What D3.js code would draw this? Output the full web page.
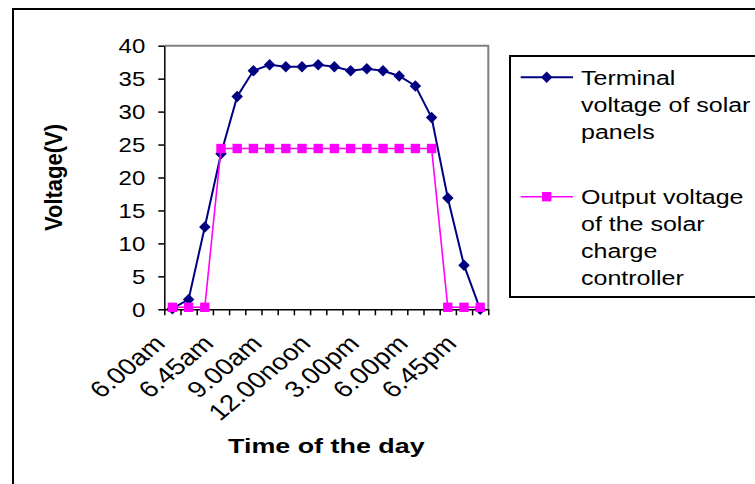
<!DOCTYPE html>
<html>
<head>
<meta charset="utf-8">
<script src="https://cdn.jsdelivr.net/npm/d3@7"></script>
<style>
  body { margin: 0; background: #fff; }
  svg { display: block; font-family: 'Liberation Sans', Arial, sans-serif; }
</style>
</head>
<body>
<div id="chart"></div>
<script>
// readings through the day (20 samples)
const terminal = [0.1, 1.5, 12.5, 23.6, 32.3, 36.2, 37.1, 36.8, 36.8, 37.1, 36.8, 36.2, 36.5, 36.2, 35.4, 33.9, 29.1, 16.9, 6.7, 0]
const output = [0.3, 0.3, 0.3, 24.4, 24.4, 24.4, 24.4, 24.4, 24.4, 24.4, 24.4, 24.4, 24.4, 24.4, 24.4, 24.4, 24.4, 0.3, 0.3, 0.3]
const tickLabels = ['6.00am', '6.45am', '9.00am', '12.00noon', '3.00pm', '6.00pm', '6.45pm']
const labelEvery = 3
const yTicks = [0, 5, 10, 15, 20, 25, 30, 35, 40]
const legendLines = [
  ['Terminal', 'voltage of solar', 'panels'],
  ['Output voltage', 'of the solar', 'charge', 'controller']
]

const width = 755
const height = 484
const plot = { left: 164.3, right: 488.3, top: 45.7, bottom: 309.3 }
const sx = 1.2 // text in the picture is wider than tall

const svg = d3.select('#chart')
  .append('svg')
  .attr('width', width)
  .attr('height', height)

// outer frame
svg.append('rect')
  .attr('x', 13).attr('y', 9)
  .attr('width', 800).attr('height', 600)
  .attr('fill', 'none')
  .attr('stroke', '#000')
  .attr('stroke-width', 2)

const n = terminal.length
const x = d3.scaleBand().domain(d3.range(n)).range([plot.left, plot.right])
const xEdge = d3.scaleLinear().domain([0, n]).range([plot.left, plot.right])
const y = d3.scaleLinear().domain([0, 40]).range([plot.bottom, plot.top])
const cx = i => x(i) + x.bandwidth() / 2

// grey top / right border of the plot area
svg.append('path')
  .attr('d', `M${plot.left},${plot.top}H${plot.right}V${plot.bottom}`)
  .attr('fill', 'none')
  .attr('stroke', '#808080')
  .attr('stroke-width', 2)

// y axis
const yAxis = svg.append('g')
  .attr('transform', `translate(${plot.left},0)`)
  .call(d3.axisLeft(y).tickValues(yTicks).tickSize(6).tickSizeOuter(0).tickPadding(0))
yAxis.select('.domain').attr('stroke', '#000').attr('stroke-width', 1.5)
yAxis.selectAll('.tick line').attr('stroke', '#000').attr('stroke-width', 1.5)
yAxis.selectAll('.tick text')
  .attr('x', 0)
  .attr('transform', `translate(-19,0) scale(1.2,1)`)
  .attr('dy', '0.36em')
  .style('font-size', '20px')
  .attr('fill', '#000')

// x axis, ticks between categories
const xAxis = svg.append('g')
  .attr('transform', `translate(0,${plot.bottom})`)
  .call(d3.axisBottom(xEdge).tickValues(d3.range(n + 1)).tickFormat('').tickSize(6).tickSizeOuter(0))
xAxis.select('.domain').attr('stroke', '#000').attr('stroke-width', 1.5)
xAxis.selectAll('.tick line').attr('stroke', '#000').attr('stroke-width', 1.5)

svg.append('g')
  .selectAll('text')
  .data(tickLabels)
  .enter()
  .append('text')
  .attr('transform', (d, i) => `translate(${cx(i * labelEvery) - 6},345) scale(${sx},1) rotate(-45)`)
  .attr('text-anchor', 'end')
  .style('font-size', '23px')
  .text(d => d)

// axis titles
svg.append('text')
  .attr('transform', `translate(62,${(plot.top + plot.bottom) / 2}) scale(1.05,1) rotate(-90)`)
  .attr('text-anchor', 'middle')
  .style('font-size', '22px')
  .style('font-weight', 'bold')
  .text('Voltage(V)')

svg.append('text')
  .attr('transform', `translate(${(plot.left + plot.right) / 2},453) scale(1.28,1)`)
  .attr('text-anchor', 'middle')
  .style('font-size', '21px')
  .style('font-weight', 'bold')
  .text('Time of the day')

// series
const line = d3.line().x((d, i) => cx(i)).y(d => y(d))
const diamond = d3.symbol().type(d3.symbolSquare).size(66)
const square = d3.symbol().type(d3.symbolSquare).size(88)

svg.append('path')
  .datum(terminal)
  .attr('d', line)
  .attr('fill', 'none')
  .attr('stroke', '#000080')
  .attr('stroke-width', 2)
svg.append('g')
  .selectAll('path')
  .data(terminal)
  .enter()
  .append('path')
  .attr('d', diamond)
  .attr('transform', (d, i) => `translate(${cx(i)},${y(d)}) rotate(45)`)
  .attr('fill', '#000080')

svg.append('path')
  .datum(output)
  .attr('d', line)
  .attr('fill', 'none')
  .attr('stroke', '#FF00FF')
  .attr('stroke-width', 1.6)
svg.append('g')
  .selectAll('path')
  .data(output)
  .enter()
  .append('path')
  .attr('d', square)
  .attr('transform', (d, i) => `translate(${cx(i)},${y(d)})`)
  .attr('fill', '#FF00FF')

// legend
svg.append('rect')
  .attr('x', 510).attr('y', 56)
  .attr('width', 300).attr('height', 241)
  .attr('fill', 'none')
  .attr('stroke', '#000')
  .attr('stroke-width', 2)

const legendRows = [
  { y: 77.3, color: '#000080', symbol: diamond, rot: 45, width: 2 },
  { y: 196.7, color: '#FF00FF', symbol: square, rot: 0, width: 1.6 }
]
legendRows.forEach((r, k) => {
  svg.append('line')
    .attr('x1', 520.7).attr('x2', 573)
    .attr('y1', r.y).attr('y2', r.y)
    .attr('stroke', r.color)
    .attr('stroke-width', r.width)
  svg.append('path')
    .attr('d', r.symbol)
    .attr('transform', `translate(546.7,${r.y}) rotate(${r.rot})`)
    .attr('fill', r.color)
  const t = svg.append('text')
    .attr('transform', `translate(581,${r.y + 7.5}) scale(1.25,1)`)
    .style('font-size', '20px')
  t.selectAll('tspan')
    .data(legendLines[k])
    .enter()
    .append('tspan')
    .attr('x', 0)
    .attr('dy', (d, i) => i === 0 ? 0 : 27)
    .text(d => d)
})
</script>
</body>
</html>
